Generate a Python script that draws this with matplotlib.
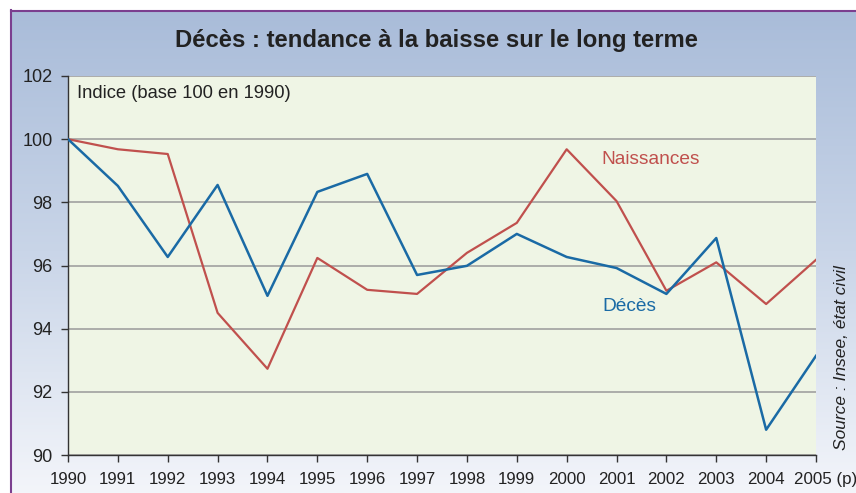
import numpy as np
import matplotlib
matplotlib.use("Agg")
import matplotlib.pyplot as plt
from matplotlib.colors import LinearSegmentedColormap
from matplotlib.lines import Line2D
from matplotlib import font_manager
import matplotlib.transforms as mtransforms

fams = {f.name for f in font_manager.fontManager.ttflist}
FONT = "Liberation Sans Narrow" if "Liberation Sans Narrow" in fams else "Liberation Sans"
plt.rcParams['font.family'] = [FONT, 'DejaVu Sans']

years = list(range(1990, 2006))
year_labels = [str(y) for y in years[:-1]] + ["2005 (p)"]
naissances = [100, 99.68, 99.53, 94.5, 92.73, 96.24, 95.23, 95.1, 96.4, 97.35,
              99.68, 98.04, 95.2, 96.1, 94.78, 96.18]
deces = [100, 98.52, 96.27, 98.55, 95.04, 98.33, 98.9, 95.7, 95.99, 97.0,
         96.27, 95.92, 95.1, 96.87, 90.8, 93.14]
yticks = [90, 92, 94, 96, 98, 100, 102]

W, H = 856, 493
fig = plt.figure(figsize=(W / 100, H / 100), dpi=100)

# background gradient panel
bg = fig.add_axes([0, 0, 1, 1], zorder=-10)
bg.set_xlim(0, W)
bg.set_ylim(H, 0)
bg.axis('off')
cmap = LinearSegmentedColormap.from_list("g", ["#a9bcd9", "#c9d5e8", "#f3f5fa"])
grad = np.linspace(0, 1, 256).reshape(-1, 1)
bg.imshow(grad, cmap=cmap, extent=[11, W, H, 10], aspect='auto', zorder=0)
bg.add_line(Line2D([11, W], [10.5, 10.5], color="#7b3f8f", lw=1.5, zorder=2))
bg.add_line(Line2D([11.5, 11.5], [10, H], color="#7b3f8f", lw=1.5, zorder=2))

ax = fig.add_axes([68 / W, 1 - 455 / H, (816 - 68) / W, (455 - 76) / H])
ax.set_facecolor("#eff5e5")
ax.plot(years, naissances, color="#c0504d", lw=1.6, zorder=3)
ax.plot(years, deces, color="#1a6aa5", lw=1.8, zorder=4)
ax.set_xlim(1990, 2005)
ax.set_ylim(90, 102)
ax.set_yticks(yticks)
ax.set_yticklabels([str(v) for v in yticks])
ax.set_xticks(years)
ax.set_xticklabels(year_labels)
ax.grid(axis='y', color="#a0a0a0", lw=1.2, zorder=1)
for s in ['top', 'right']:
    ax.spines[s].set_visible(False)
for s in ['left', 'bottom']:
    ax.spines[s].set_color("#333333")
    ax.spines[s].set_linewidth(1.0)
ax.tick_params(axis='both', colors="#333333", labelcolor="#222222",
               length=5, width=1.0, direction='out')
ax.tick_params(axis='x', pad=7, labelsize=12.2)
ax.tick_params(axis='y', pad=6, labelsize=13)
last = ax.get_xticklabels()[-1]
last.set_transform(last.get_transform() +
                   mtransforms.ScaledTranslation(10 / 100, 0, fig.dpi_scale_trans))

ax.text(0.012, 0.975, "Indice (base 100 en 1990)", transform=ax.transAxes,
        ha='left', va='top', fontsize=13.2, color="#222222")
ax.text(2000.7, 99.35, "Naissances", color="#c0504d", fontsize=13.8, ha='left', va='center')
ax.text(2000.72, 94.7, "Décès", color="#1a6aa5", fontsize=13.8, ha='left', va='center')

fig.text(437 / W, 1 - 41 / H, "Décès : tendance à la baisse sur le long terme",
         ha='center', va='center', fontsize=17.2, fontweight='bold', color="#222222")
fig.text(842 / W, 1 - 358 / H, "Source : Insee, état civil", rotation=90,
         ha='center', va='center', fontsize=12.5, style='italic', color="#222222")

fig.savefig("out.png", dpi=100)
